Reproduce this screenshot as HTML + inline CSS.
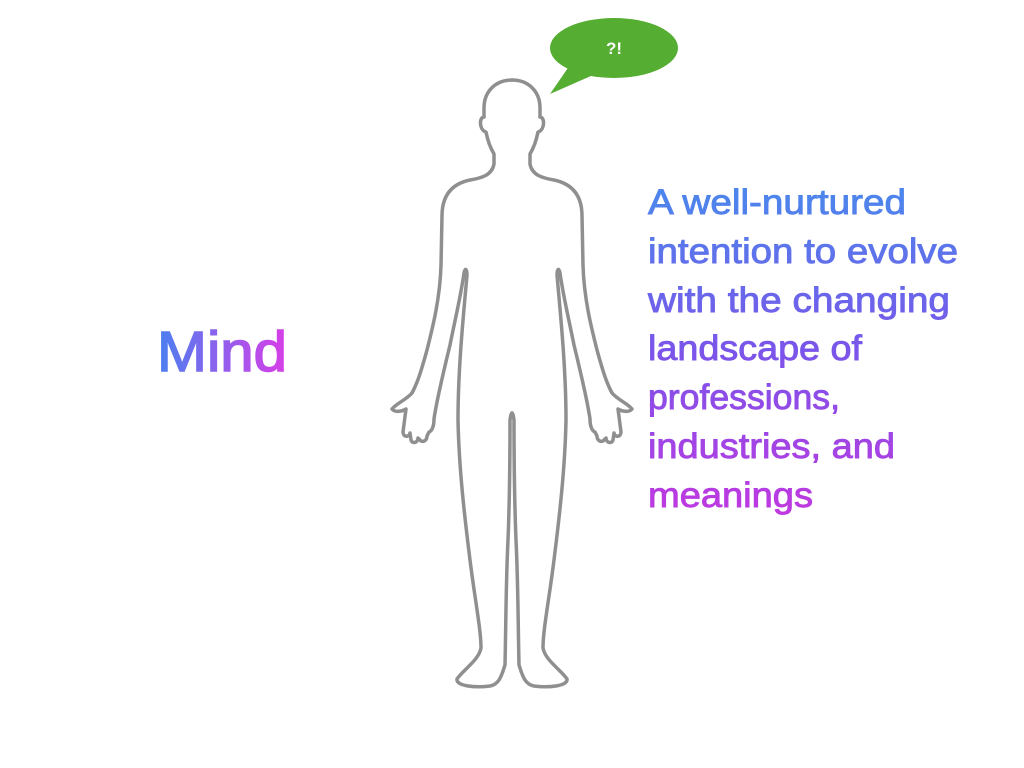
<!DOCTYPE html>
<html><head><meta charset="utf-8"><style>
html,body{margin:0;padding:0;background:#fff;}
svg{display:block;}
</style></head><body>
<svg width="1024" height="768" viewBox="0 0 1024 768" xmlns="http://www.w3.org/2000/svg">
<defs>
<linearGradient id="gm" x1="157" y1="0" x2="287" y2="0" gradientUnits="userSpaceOnUse">
<stop offset="0" stop-color="#4a80f0"/><stop offset="1" stop-color="#d83ee8"/>
</linearGradient>
<linearGradient id="gt" x1="0" y1="185" x2="0" y2="515" gradientUnits="userSpaceOnUse">
<stop offset="0" stop-color="#4a88ec"/><stop offset="0.5" stop-color="#7a55ea"/><stop offset="1" stop-color="#c038e0"/>
</linearGradient>
<path id="half" d="M512,80 C495,80 484,92 484,108 L484,117 C479,117 479,130 486,132 C488,142 491,149 494,154 L494,164 C492,175 482,178 470,180 C451,184 442,196 442,216 L441,265 C440,300 432,330 427,350 C422,368 418,382 412,393 C406,400 397,403 392,409 C395,413 403,411 406,409 L403,432 C403,437 409,438 410,433 L411,440 C412,444 418,443 418,438 L420,440 C422,443 427,441 427,436 L429,432 C432,431 434,426 434,419 C437,398 444,370 450,345 C455,320 461,295 464,273 C465,268 467,268 467,275 C463,320 458,370 458,420 C459,470 465,520 470,560 C475,600 481,630 481,648 C479,660 463,670 457,679 C456,686 475,688 490,686 C500,684 502,674 505,665 C506,620 506,580 508,540 C510,490 510,450 510,420 Q511,413 512,413"/>
</defs>
<g fill="none" stroke="#8f8f8f" stroke-width="3.5" stroke-linejoin="round" stroke-linecap="round">
<use href="#half"/>
<use href="#half" transform="translate(1024,0) scale(-1,1)"/>
</g>
<ellipse cx="614" cy="48" rx="64" ry="30" fill="#55ad32"/>
<path d="M572,62 L550,94 L600,72 Z" fill="#55ad32"/>
<text x="614" y="54" font-family="Liberation Sans, sans-serif" font-weight="bold" font-size="17" fill="#fff" text-anchor="middle">?!</text>
<text x="157" y="371" font-family="Liberation Sans, sans-serif" font-size="57" fill="url(#gm)" stroke="url(#gm)" stroke-width="1.6" textLength="130" lengthAdjust="spacingAndGlyphs">Mind</text>
<g font-family="Liberation Sans, sans-serif" font-size="35" fill="url(#gt)" stroke="url(#gt)" stroke-width="0.9">
<text x="648" y="214" textLength="258" lengthAdjust="spacingAndGlyphs">A well-nurtured</text>
<text x="648" y="263" textLength="310" lengthAdjust="spacingAndGlyphs">intention to evolve</text>
<text x="648" y="312" textLength="302" lengthAdjust="spacingAndGlyphs">with the changing</text>
<text x="648" y="360" textLength="214" lengthAdjust="spacingAndGlyphs">landscape of</text>
<text x="648" y="409" textLength="192" lengthAdjust="spacingAndGlyphs">professions,</text>
<text x="648" y="458" textLength="247" lengthAdjust="spacingAndGlyphs">industries, and</text>
<text x="648" y="507" textLength="165" lengthAdjust="spacingAndGlyphs">meanings</text>
</g>
</svg>
</body></html>
